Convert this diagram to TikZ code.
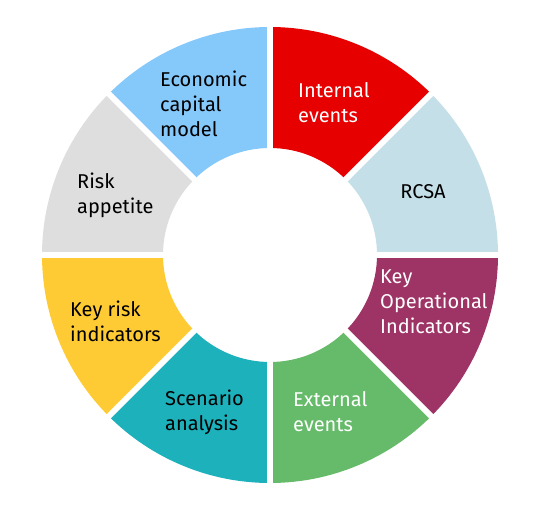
\documentclass[tikz,border=0pt]{standalone}
\usepackage{fontspec}
\setmainfont{Fira Sans}
\usetikzlibrary{positioning}
\definecolor{segred}{HTML}{E60000}
\definecolor{segrcsa}{HTML}{C5DFE8}
\definecolor{segkoi}{HTML}{9E3465}
\definecolor{segext}{HTML}{66BB6A}
\definecolor{segscen}{HTML}{1DB1BC}
\definecolor{segkri}{HTML}{FECB34}
\definecolor{segapp}{HTML}{DEDEDE}
\definecolor{segecm}{HTML}{85C8FA}
\tikzset{
  gapline/.style = {draw = white, line width = 6pt},
  lbl/.style = {#1, font=\fontsize{20}{25}\selectfont, align = left, inner sep = 0pt, anchor = west},
  lblc/.style = {#1, font=\fontsize{20}{25}\selectfont, align = center, inner sep = 0pt}
}
\begin{document}
\begin{tikzpicture}[x=1pt,y=1pt]
  \useasboundingbox (0,0) rectangle (540,506);
  \begin{scope}[shift={(270,251)}]
    % ring segments
    \foreach \a/\c in {45/segred,0/segrcsa,-45/segkoi,-90/segext,-135/segscen,-180/segkri,135/segapp,90/segecm}{
      \fill[\c] (\a:228) arc[start angle=\a, end angle=\a+45, radius=228]
        -- (\a+45:107) arc[start angle=\a+45, end angle=\a, radius=107] -- cycle;
    }
    \foreach \a in {0,45,...,315}{
      \draw[gapline] (\a:100) -- (\a:235);
    }
  \end{scope}
  % labels
  \node[lbl=white] (int) at (298,403) {Internal\\events};
  \node[lblc=black] (rcsa) at (423,314) {RCSA};
  \node[lbl=white] (koi) at (380,204) {Key\\Operational\\Indicators};
  \node[lbl=white] (ext) at (293,94) {External\\events};
  \node[lbl=black] (scen) at (165,94) {Scenario\\analysis};
  \node[lbl=black] (kri) at (70,185) {Key risk\\indicators};
  \node[lbl=black] (app) at (77,311) {Risk\\appetite};
  \node[lbl=black] (ecm) at (160,402) {Economic\\capital\\model};
\end{tikzpicture}
\end{document}
